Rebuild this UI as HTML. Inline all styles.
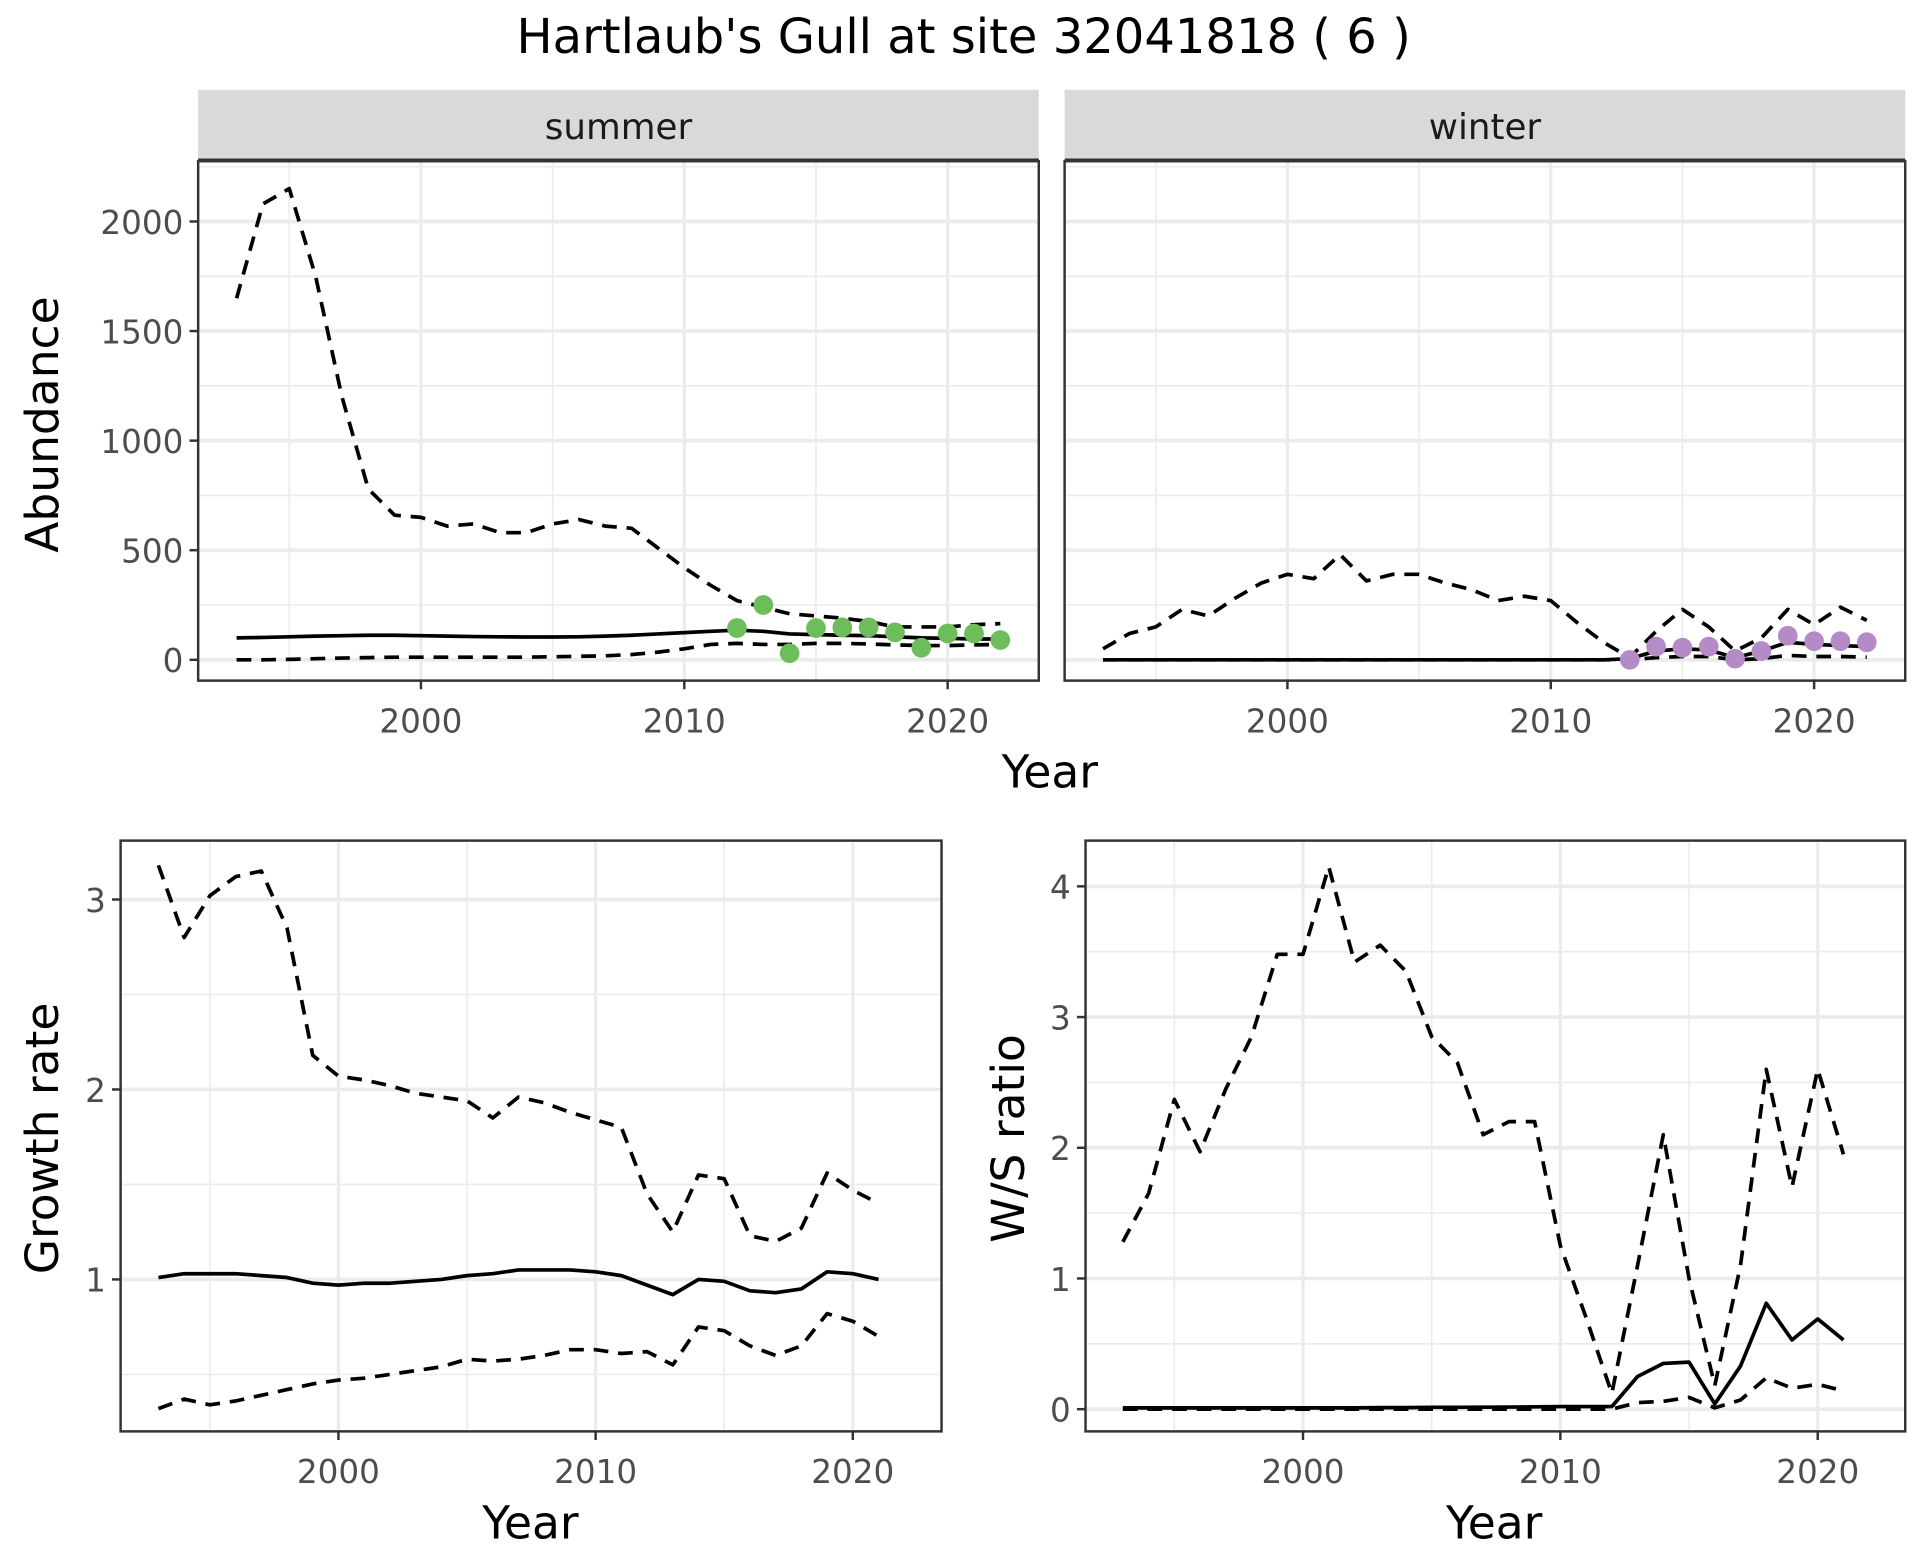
<!DOCTYPE html>
<html><head><meta charset="utf-8"><style>
html,body{margin:0;padding:0;background:#fff;}
svg{display:block;font-family:"DejaVu Sans","Liberation Sans",sans-serif;}
</style></head><body>
<svg id="chart" width="1920" height="1560" viewBox="0 0 1560 1267.5" xmlns="http://www.w3.org/2000/svg">
<text x="783" y="43" font-size="39" text-anchor="middle" fill="#000">Hartlaub's Gull at site 32041818 ( 6 )</text>
</svg>
<script>
// ---- data ----
const yearsA = [1993,1994,1995,1996,1997,1998,1999,2000,2001,2002,2003,2004,2005,2006,2007,2008,2009,2010,2011,2012,2013,2014,2015,2016,2017,2018,2019,2020,2021,2022];
const summerUpper = [1650,2080,2150,1750,1200,780,660,650,610,620,580,580,620,640,610,600,510,420,340,270,240,210,200,190,175,150,150,150,160,165];
const summerMean = [100,102,105,108,110,112,112,110,108,106,105,104,104,105,108,112,118,124,130,135,130,118,115,112,110,105,100,98,95,95];
const summerLower = [0,0,2,5,8,10,12,12,12,12,12,12,14,16,18,24,35,50,70,75,70,70,75,75,72,68,65,65,68,70];
const summerObsYears = [2012,2013,2014,2015,2016,2017,2018,2019,2020,2021,2022];
const summerObs = [145,250,30,145,148,148,125,55,120,120,90];
const winterUpper = [50,120,150,230,200,280,350,390,370,480,360,390,390,350,320,270,290,270,170,80,10,130,230,150,40,100,230,160,240,180];
const winterMean = [0,0,0,0,0,0,0,0,0,0,0,0,0,0,0,0,0,0,0,0,5,40,50,45,10,40,80,70,65,60];
const winterLower = [0,0,0,0,0,0,0,0,0,0,0,0,0,0,0,0,0,0,0,0,0,10,15,15,0,5,20,15,15,12];
const winterObsYears = [2013,2014,2015,2016,2017,2018,2019,2020,2021,2022];
const winterObs = [0,60,55,60,5,40,110,85,85,80];
const yearsB = [1993,1994,1995,1996,1997,1998,1999,2000,2001,2002,2003,2004,2005,2006,2007,2008,2009,2010,2011,2012,2013,2014,2015,2016,2017,2018,2019,2020,2021];
const growthUpper = [3.18,2.8,3.02,3.12,3.15,2.85,2.18,2.07,2.05,2.02,1.98,1.96,1.94,1.85,1.96,1.93,1.88,1.84,1.80,1.45,1.25,1.55,1.53,1.23,1.20,1.27,1.56,1.47,1.40];
const growthMean = [1.01,1.03,1.03,1.03,1.02,1.01,0.98,0.97,0.98,0.98,0.99,1.00,1.02,1.03,1.05,1.05,1.05,1.04,1.02,0.97,0.92,1.00,0.99,0.94,0.93,0.95,1.04,1.03,1.00];
const growthLower = [0.32,0.37,0.34,0.36,0.39,0.42,0.45,0.47,0.48,0.50,0.52,0.54,0.58,0.57,0.58,0.60,0.63,0.63,0.61,0.62,0.55,0.75,0.73,0.65,0.60,0.65,0.82,0.78,0.70];
const ratioUpper = [1.28,1.65,2.37,1.97,2.45,2.85,3.48,3.48,4.15,3.42,3.55,3.35,2.85,2.65,2.1,2.2,2.2,1.25,0.7,0.12,1.1,2.1,1.0,0.18,1.1,2.6,1.7,2.6,1.95];
const ratioMean = [0.01,0.01,0.01,0.01,0.01,0.01,0.01,0.01,0.01,0.01,0.012,0.012,0.014,0.014,0.015,0.016,0.018,0.02,0.02,0.02,0.25,0.35,0.36,0.04,0.33,0.81,0.53,0.69,0.53];
const ratioLower = [0,0,0,0,0,0,0,0,0,0,0,0,0,0,0,0,0,0,0,0,0.05,0.06,0.09,0.01,0.07,0.24,0.16,0.19,0.14];
const xTicks = [2000,2010,2020];
const xMinor = [1995,2005,2015];
const abundTicks = [0,500,1000,1500,2000];
const growthTicks = [1,2,3];
const ratioTicks = [0,1,2,3,4];

const NS = "http://www.w3.org/2000/svg";
const svg = document.getElementById('chart');
function mk(tag, attrs, parent){
  const e = document.createElementNS(NS, tag);
  for (const k in attrs) e.setAttribute(k, attrs[k]);
  (parent||svg).appendChild(e);
  return e;
}
function scale(d0,d1,r0,r1){ return v => r0 + (v-d0)/(d1-d0)*(r1-r0); }

function panel(cfg){
  const g = mk('g', {});
  
  
  const {x0,x1,y0,y1} = cfg;
  const xs = scale(cfg.xd[0], cfg.xd[1], x0, x1);
  const ys = scale(cfg.yd[0], cfg.yd[1], y1, y0);
  mk('rect', {x:x0,y:y0,width:x1-x0,height:y1-y0,fill:'#fff'}, g);
  xMinor.forEach(v => mk('line',{x1:xs(v),x2:xs(v),y1:y0,y2:y1,stroke:'#ebebeb','stroke-width':1.3},g));
  cfg.yMinor.forEach(v => mk('line',{x1:x0,x2:x1,y1:ys(v),y2:ys(v),stroke:'#ebebeb','stroke-width':1.3},g));
  xTicks.forEach(v => mk('line',{x1:xs(v),x2:xs(v),y1:y0,y2:y1,stroke:'#ebebeb','stroke-width':2.6},g));
  cfg.yTicks.forEach(v => mk('line',{x1:x0,x2:x1,y1:ys(v),y2:ys(v),stroke:'#ebebeb','stroke-width':3},g));
  const line = (ys_, vals, dash, nm) => {
    const p = mk('polyline',{points: ys_.map((yr,i)=>xs(yr)+','+ys(vals[i])).join(' '), fill:'none', stroke:'#000','stroke-width':3,'stroke-linejoin':'round'}, g);
    if (dash) p.setAttribute('stroke-dasharray','12,8');
    
    
  };
  line(cfg.years, cfg.upper, true, 'upper-bound-line');
  line(cfg.years, cfg.mean, false, 'mean-line');
  line(cfg.years, cfg.lower, true, 'lower-bound-line');
  if (cfg.obs){
    cfg.obsYears.forEach((yr,i)=>{
      const c = mk('circle',{cx:xs(yr),cy:ys(cfg.obs[i]),r:8,fill:cfg.color},g);
      
      
    });
  }
  mk('rect',{x:x0,y:y0,width:x1-x0,height:y1-y0,fill:'none',stroke:'#333','stroke-width':2},g);
  xTicks.forEach(v => {
    mk('line',{x1:xs(v),x2:xs(v),y1:y1,y2:y1+7,stroke:'#333','stroke-width':2},g);
    const t = mk('text',{x:xs(v),y:y1+42,'font-size':26.5,'text-anchor':'middle',fill:'#4d4d4d'},g);
    t.textContent = v;
    
    
  });
  if (cfg.yLabels){
    cfg.yTicks.forEach(v => {
      mk('line',{x1:x0-7,x2:x0,y1:ys(v),y2:ys(v),stroke:'#333','stroke-width':2},g);
      const t = mk('text',{x:x0-12,y:ys(v)+10,'font-size':26.5,'text-anchor':'end',fill:'#4d4d4d'},g);
      t.textContent = v;
      
      
    });
  }
  if (cfg.strip){
    mk('rect',{x:x0,y:y0-58,width:x1-x0,height:58,fill:'#d9d9d9'},g);
    mk('line',{x1:x0,x2:x1,y1:y0-1,y2:y0-1,stroke:'#333','stroke-width':2.4},g);
    const t = mk('text',{x:(x0+x1)/2,y:y0-18,'font-size':29,'text-anchor':'middle',fill:'#1a1a1a'},g);
    t.textContent = cfg.strip;
    
    
  }
  return {xs, ys};
}
function label(txt, x, y, rot, nm){
  const t = mk('text',{x:x,y:y,'font-size':37,'text-anchor':'middle',fill:'#000'});
  if (rot) t.setAttribute('transform','rotate(-90 '+x+' '+y+')');
  t.textContent = txt;
  
  
}

const topXd = [1991.54, 2023.46];
panel({name:'summer-panel',x0:161,x1:844,y0:131,y1:553,xd:topXd,yd:[-95,2275],yTicks:abundTicks,yMinor:[250,750,1250,1750,2250],
  years:yearsA,upper:summerUpper,mean:summerMean,lower:summerLower,obsYears:summerObsYears,obs:summerObs,color:'#6dbd5c',yLabels:true,strip:'summer'});
panel({name:'winter-panel',x0:865,x1:1548,y0:131,y1:553,xd:topXd,yd:[-95,2275],yTicks:abundTicks,yMinor:[250,750,1250,1750,2250],
  years:yearsA,upper:winterUpper,mean:winterMean,lower:winterLower,obsYears:winterObsYears,obs:winterObs,color:'#b48bc6',yLabels:false,strip:'winter'});
panel({name:'growth-rate-panel',x0:98,x1:765,y0:683,y1:1163,xd:[1991.53,2023.45],yd:[0.2,3.31],yTicks:growthTicks,yMinor:[0.5,1.5,2.5],
  years:yearsB,upper:growthUpper,mean:growthMean,lower:growthLower,yLabels:true});
panel({name:'ws-ratio-panel',x0:882,x1:1548,y0:683,y1:1163,xd:[1991.55,2023.4],yd:[-0.17,4.35],yTicks:ratioTicks,yMinor:[0.5,1.5,2.5,3.5],
  years:yearsB,upper:ratioUpper,mean:ratioMean,lower:ratioLower,yLabels:true});

label('Year', 853, 640, false, 'top-x-axis-title');
label('Abundance', 47, 345, true, 'abundance-y-axis-title');
label('Year', 431, 1250, false, 'growth-x-axis-title');
label('Growth rate', 47, 925, true, 'growth-y-axis-title');
label('Year', 1214, 1250, false, 'ratio-x-axis-title');
label('W/S ratio', 832, 925, true, 'ratio-y-axis-title');
</script>
</body></html>
